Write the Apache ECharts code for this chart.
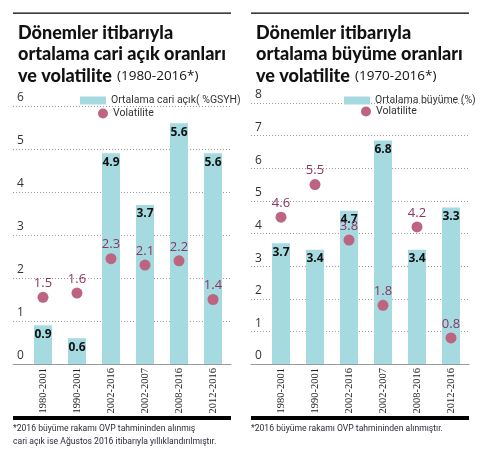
<!DOCTYPE html>
<html><head><meta charset="utf-8">
<script src="https://cdn.jsdelivr.net/npm/echarts@6/dist/echarts.min.js"></script>
<style>html,body{margin:0;padding:0;background:#fff}#c{width:486px;height:468px}</style>
</head><body><div id="c"></div>
<script>
const categories = ['1980-2001','1990-2001','2002-2016','2002-2007','2008-2016','2012-2016'];
// Left chart: current account deficit (bar heights as drawn, printed labels)
const deficitBars   = [0.9, 0.6, 4.9, 3.7, 5.6, 4.9];
const deficitLabels = ['0.9','0.6','4.9','3.7','5.6','5.6'];
const deficitVol    = [1.55, 1.65, 2.45, 2.3, 2.4, 1.5];
const deficitVolLabels = ['1.5','1.6','2.3','2.1','2.2','1.4'];
// Right chart: growth
const growthBars   = [3.7, 3.5, 4.7, 6.85, 3.5, 4.8];
const growthLabels = ['3.7','3.4','4.7','6.8','3.4','3.3'];
const growthVol    = [4.5, 5.5, 3.8, 1.8, 4.2, 0.8];
const growthVolLabels = ['4.6','5.5','3.8','1.8','4.2','0.8'];
const leftTicksMax = 6, rightTicksMax = 8;

const BAR = '#a5dbe0', DOT = '#bd6480', DOTTXT = '#8c3560';
const chart = echarts.init(document.getElementById('c'), null, {renderer:'canvas'});
const titleFont = 'Lato, "Open Sans", sans-serif';
const narrow = 'Roboto, sans-serif';

function wideY(idx, max){
  return {gridIndex: idx, type:'value', min:0, max:max, interval:1,
    axisLine:{show:false}, axisTick:{show:false},
    splitLine:{show:true, lineStyle:{color:'#9a9a9a', type:[1,2], width:1}},
    axisLabel:{inside:true, margin:4, verticalAlign:'bottom', padding:[0,0,2,0],
      color:'#333', fontSize:12, fontFamily:'"Open Sans", sans-serif'}};
}
function wideX(idx){
  return {gridIndex: idx, type:'value', min:0, max:1, axisLabel:{show:false}, axisTick:{show:false},
    splitLine:{show:false}, axisLine:{show:true, lineStyle:{color:'#999', width:1}}};
}
function barX(idx){
  return {gridIndex: idx, type:'category', data:categories,
    axisLine:{show:false}, axisTick:{show:false},
    axisLabel:{rotate:90, margin:4, color:'#222', fontSize:10.5, fontFamily:'"Liberation Serif", serif', interval:0}};
}
function barY(idx, max){
  return {gridIndex: idx, type:'value', min:0, max:max, show:false, splitLine:{show:false}};
}
function series(xi, yi, bars, blabels, vol, vlabels, name){
  return [
    {type:'bar', name:name, xAxisIndex:xi, yAxisIndex:yi, data:bars, barWidth:18,
      itemStyle:{color:BAR},
      label:{show:true, position:'insideTop', distance:3, fontWeight:'bold', fontSize:12, color:'#111',
        fontFamily:'"Open Sans", sans-serif', formatter:p=>blabels[p.dataIndex]}},
    {type:'scatter', name:'Volatilite', xAxisIndex:xi, yAxisIndex:yi, data:vol, symbolSize:11,
      itemStyle:{color:DOT, opacity:1}, z:5,
      label:{show:true, position:'top', distance:2, fontSize:13, color:DOTTXT,
        fontFamily:'"Open Sans", sans-serif', formatter:p=>vlabels[p.dataIndex]}}
  ];
}
const legText = {color:'#333', fontSize:10.5, fontFamily:narrow};
const titleRich = {
  b:{fontSize:18, fontWeight:900, fontFamily:titleFont, color:'#111', lineHeight:21.5},
  n:{fontSize:13.5, fontWeight:'normal', fontFamily:'"Open Sans", sans-serif', color:'#111', lineHeight:21.5}
};
const foot = {fontSize:8.6, fontFamily:narrow, fill:'#2b2b3a', lineHeight:13};
chart.setOption({
  animation:false,
  title:[
    {left:13, top:17, text:'{b|Dönemler itibarıyla}\n{b|ortalama cari açık oranları}\n{b|ve volatilite} {n|(1980-2016*)}',
      textStyle:{fontWeight:'normal', rich:titleRich}},
    {left:251, top:17, text:'{b|Dönemler itibarıyla}\n{b|ortalama büyüme oranları}\n{b|ve volatilite} {n|(1970-2016*)}',
      textStyle:{fontWeight:'normal', rich:titleRich}}
  ],
  legend:[
    {left:80, top:95, itemWidth:26, itemHeight:8, icon:'rect', data:['Ortalama cari açık( %GSYH)'], textStyle:legText, padding:0, itemGap:4},
    {left:98, top:108, itemWidth:10, itemHeight:10, icon:'circle', data:[{name:'Volatilite'}], textStyle:legText, padding:0, selectedMode:false},
    {left:344, top:95, itemWidth:26, itemHeight:8, icon:'rect', data:['Ortalama büyüme (%)'], textStyle:legText, padding:0},
    {left:361, top:106, itemWidth:10, itemHeight:10, icon:'circle', data:[{name:'Volatilite'}], textStyle:legText, padding:0, selectedMode:false}
  ],
  grid:[
    {left:13, width:218, top:106, bottom:104},
    {left:26, width:204, top:106, bottom:104},
    {left:251, width:218, top:103, bottom:104},
    {left:264, width:204, top:103, bottom:104}
  ],
  xAxis:[wideX(0), barX(1), wideX(2), barX(3)],
  yAxis:[wideY(0, leftTicksMax), barY(1, leftTicksMax), wideY(2, rightTicksMax), barY(3, rightTicksMax)],
  series:[
    ...series(1,1,deficitBars,deficitLabels,deficitVol,deficitVolLabels,'Ortalama cari açık( %GSYH)'),
    ...series(3,3,growthBars,growthLabels,growthVol,growthVolLabels,'Ortalama büyüme (%)')
  ],
  graphic:[
    {type:'rect', shape:{x:13, y:12.5, width:218, height:1.2}, style:{fill:'#000'}},
    {type:'rect', shape:{x:251, y:12.5, width:218, height:1.2}, style:{fill:'#000'}},
    {type:'rect', shape:{x:13, y:416, width:218, height:4}, style:{fill:'#000'}},
    {type:'rect', shape:{x:251, y:416, width:218, height:4}, style:{fill:'#000'}},
    {type:'text', left:13, top:424, style:{text:'{a|*2016 büyüme rakamı OVP tahmininden alınmış}\n{a|cari açık ise Ağustos 2016 itibarıyla yıllıklandırılmıştır.}',
      rich:{a:foot}}},
    {type:'text', left:251, top:424, style:{text:'{a|*2016 büyüme rakamı OVP tahmininden alınmıştır.}', rich:{a:foot}}}
  ]
});
</script></body></html>
